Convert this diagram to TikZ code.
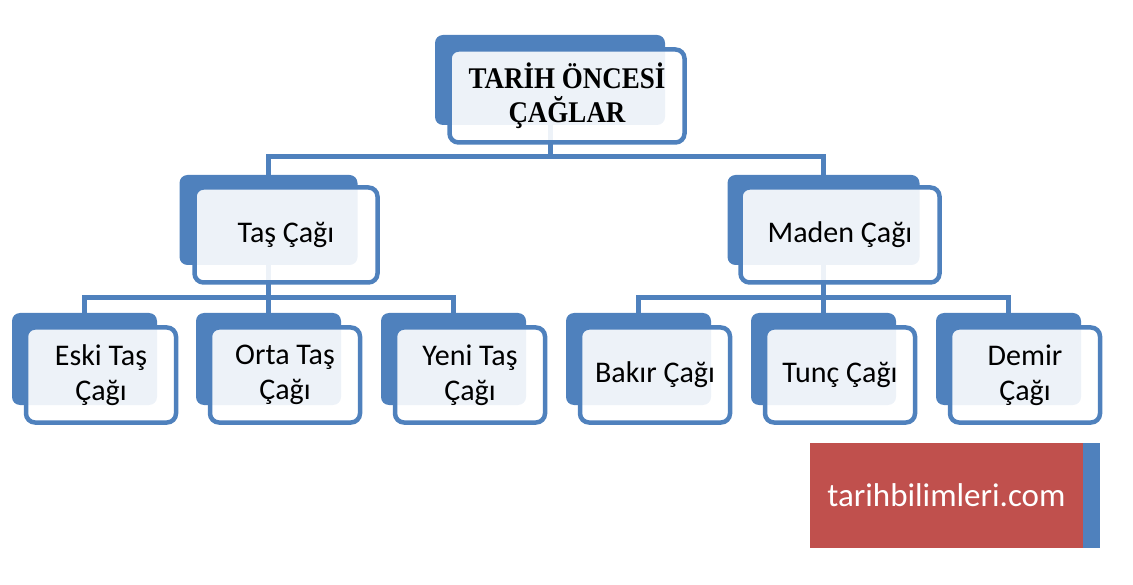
\documentclass[tikz,border=0pt]{standalone}
\usepackage{fontspec}
\setmainfont{Carlito}
\newfontfamily\titlefont[FakeStretch=0.9]{Liberation Serif}
\usetikzlibrary{positioning}
\definecolor{boxblue}{HTML}{4F81BD}
\definecolor{sitered}{HTML}{C0504D}
\tikzset{
backbox/.style = {fill=boxblue, rectangle, rounded corners=8pt, minimum width=145pt, minimum height=92pt, inner sep=0pt},
frontbox/.style = {draw=boxblue, line width=4.5pt, fill=white, fill opacity=0.9, text opacity=1, rectangle, rounded corners=9pt, minimum width=150pt, minimum height=95pt, inner sep=0pt, align=center, font=\fontsize{30}{35}\selectfont},
tmp/.style = {coordinate},
conn/.style = {draw=boxblue, line width=5pt},
site/.style = {fill=sitered, rectangle, minimum width=273pt, minimum height=105pt, inner sep=0pt, text=white, font=\fontsize{33}{38}\selectfont},
strip/.style = {fill=boxblue, rectangle, minimum width=17pt, minimum height=105pt, inner sep=0pt}
}
\begin{document}
\begin{tikzpicture}[x=1pt, y=-1pt]
\useasboundingbox (0,0) rectangle (1133,585);
% back blocks
\node[backbox, minimum width=230pt, minimum height=90pt] (bktarih) at (550,80) {};
\node[backbox, minimum width=178pt, minimum height=90pt] (bktas) at (268.5,220) {};
\node[backbox, minimum width=192pt, minimum height=90pt] (bkmaden) at (823.5,220) {};
\node[backbox] (bkeski) at (84.5,359) {};
\node[backbox] (bkorta) at (268.5,359) {};
\node[backbox] (bkyeni) at (453.5,359) {};
\node[backbox] (bkbakir) at (638.5,359) {};
\node[backbox] (bktunc) at (823.5,359) {};
\node[backbox] (bkdemir) at (1008.5,359) {};
% connectors
\node[tmp] (tmp1) at (550,157) {};
\node[tmp] (tmp2) at (268.5,298) {};
\node[tmp] (tmp3) at (823.5,298) {};
\draw[conn] (bktarih) -- (tmp1);
\draw[conn] (bktas.north) |- (tmp1) -| (bkmaden.north);
\draw[conn] (bktas) -- (tmp2);
\draw[conn] (bkeski.north) |- (tmp2) -| (bkyeni.north);
\draw[conn] (tmp2) -- (bkorta.north);
\draw[conn] (bkmaden) -- (tmp3);
\draw[conn] (bkbakir.north) |- (tmp3) -| (bkdemir.north);
\draw[conn] (tmp3) -- (bktunc.north);
% front blocks
\node[frontbox, minimum width=235pt, minimum height=93pt, font=\titlefont\bfseries\fontsize{30}{34}\selectfont] (tarih) at (567,96) {TARİH ÖNCESİ\\ÇAĞLAR};
\node[frontbox, minimum width=183pt] (tas) at (286,235) {Taş Çağı};
\node[frontbox, minimum width=199pt] (maden) at (840,235) {Maden Çağı};
\node[frontbox] (eski) at (101,375) {Eski Taş\\Çağı};
\node[frontbox] (orta) at (285,375) {Orta Taş\\Çağı};
\node[frontbox] (yeni) at (470,375) {Yeni Taş\\Çağı};
\node[frontbox] (bakir) at (655,375) {Bakır Çağı};
\node[frontbox] (tunc) at (840,375) {Tunç Çağı};
\node[frontbox] (demir) at (1025,375) {Demir\\Çağı};
% site label
\node[site] (site) at (946.5,495.5) {tarihbilimleri.com};
\node[strip, right=0pt of site] (strip) {};
\end{tikzpicture}
\end{document}
